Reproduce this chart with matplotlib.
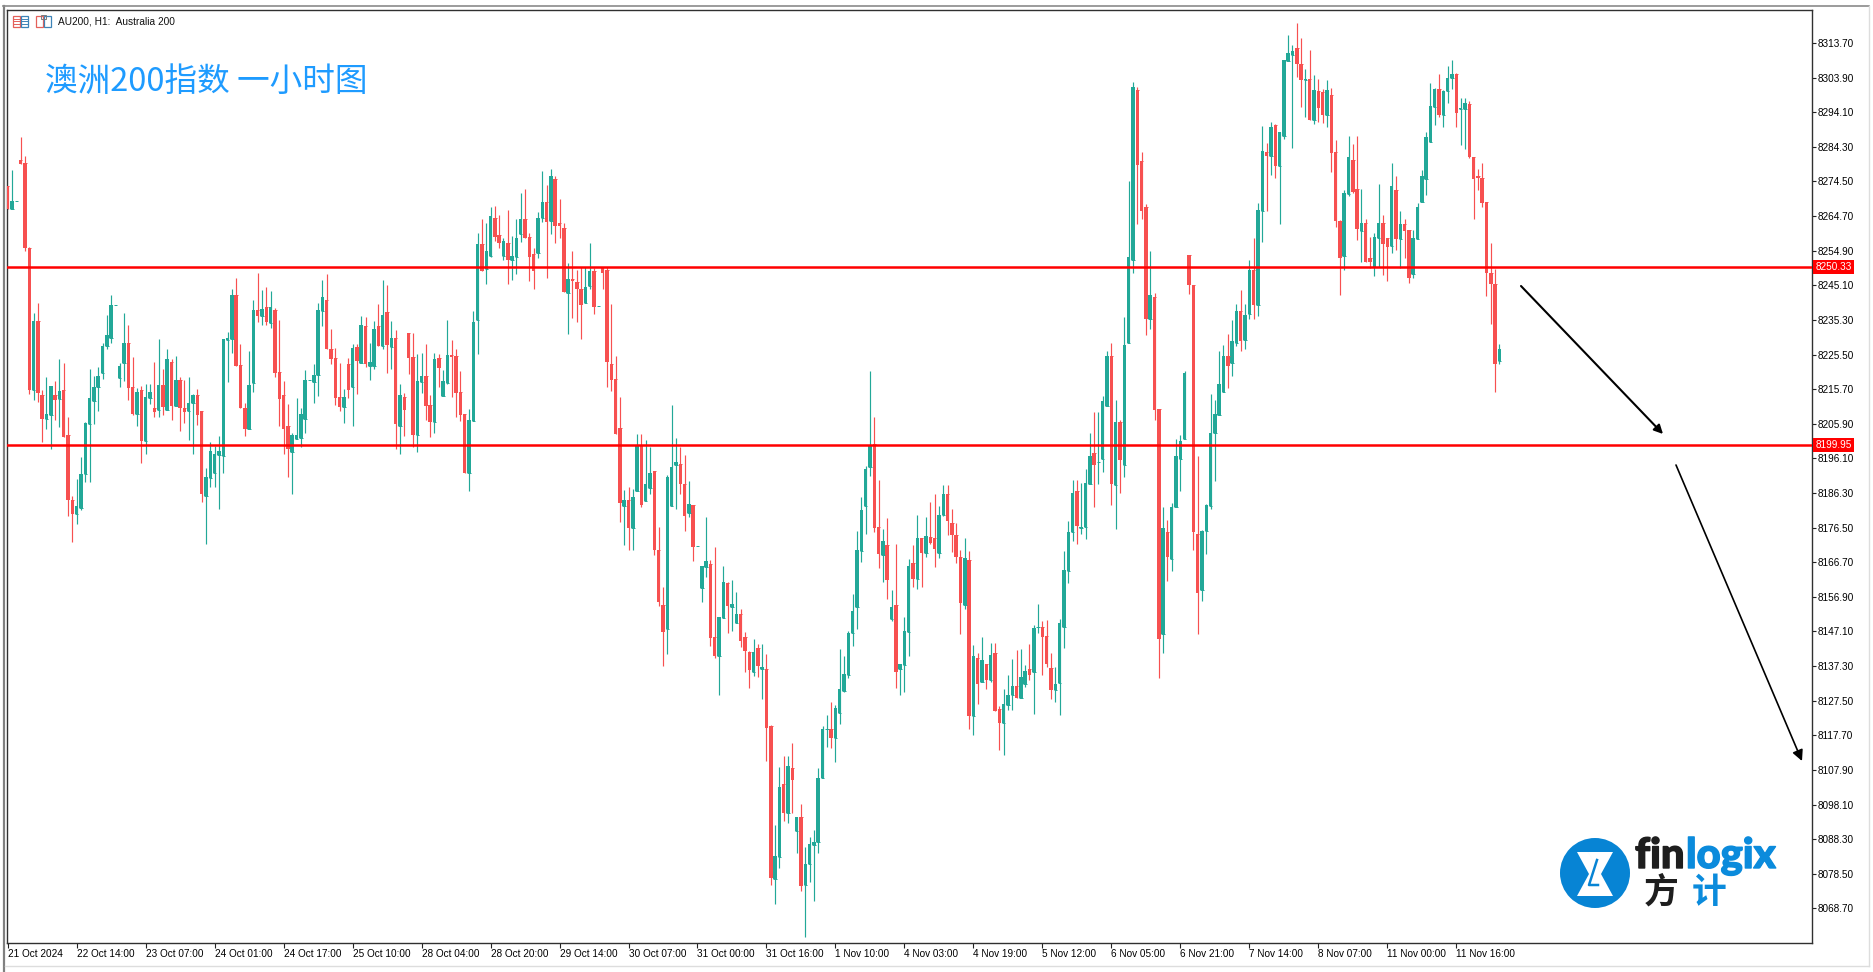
import matplotlib

matplotlib.use('Agg')
import numpy as np
import matplotlib.pyplot as plt
import matplotlib.patheffects as pe
from matplotlib.patches import Circle, Polygon, Rectangle

plt.rcParams['font.family'] = ['Liberation Sans', 'DejaVu Sans']

# hourly bars
opens = [
    8273.3, 8266.7, 8268.9, 8280.6, 8279.7, 8255.8, 8215.6, 8235.1, 8214.0, 8207.3,
    8208.4, 8214.0, 8212.9, 8215.5, 8202.7, 8184.3, 8180.3, 8182.0, 8191.6, 8205.9,
    8212.3, 8216.4, 8220.2, 8227.9, 8230.3, 8239.5, 8219.0, 8223.0, 8228.9, 8216.2,
    8208.7, 8215.5, 8200.9, 8213.2, 8210.4, 8209.8, 8217.0, 8209.8, 8223.5, 8211.0,
    8218.3, 8210.5, 8209.5, 8211.7, 8214.0, 8209.4, 8185.4, 8190.6, 8192.1, 8197.0,
    8196.8, 8229.6, 8229.9, 8242.3, 8222.5, 8210.5, 8204.3, 8217.5, 8238.1, 8236.4,
    8239.0, 8234.5, 8238.1, 8220.7, 8214.0, 8205.4, 8197.9, 8201.7, 8201.9, 8207.3,
    8218.2, 8217.6, 8219.7, 8237.9, 8240.9, 8227.1, 8224.4, 8213.4, 8210.7, 8222.8,
    8216.3, 8227.7, 8223.2, 8233.6, 8222.2, 8222.2, 8233.6, 8227.9, 8237.5, 8227.5,
    8230.2, 8205.3, 8213.4, 8231.7, 8224.7, 8202.7, 8217.6, 8219.5, 8211.2, 8206.4,
    8224.4, 8213.7, 8217.5, 8225.5, 8225.1, 8214.9, 8208.6, 8191.9, 8206.8, 8235.4,
    8256.8, 8249.6, 8253.4, 8264.3, 8259.3, 8253.4, 8257.0, 8252.3, 8253.2, 8259.6,
    8263.8, 8258.9, 8254.0, 8254.3, 8264.2, 8268.6, 8263.3, 8275.1, 8262.8, 8261.2,
    8243.0, 8247.0, 8246.0, 8244.2, 8240.0, 8244.9, 8249.2, 8239.2, 8250.4, 8249.4,
    8222.8, 8218.6, 8204.6, 8182.6, 8184.2, 8176.3, 8187.0, 8199.9, 8184.1, 8187.6,
    8192.4, 8170.3, 8154.5, 8147.7, 8182.7, 8194.3, 8194.5, 8188.8, 8180.5, 8182.9,
    8171.2, 8159.5, 8165.4, 8166.1, 8145.4, 8140.2, 8151.0, 8160.9, 8154.1, 8149.5,
    8152.0, 8145.4, 8141.4, 8135.7, 8142.3, 8136.4, 8136.5, 8120.2, 8076.9, 8083.2,
    8103.8, 8095.8, 8108.4, 8090.7, 8094.7, 8075.2, 8081.2, 8086.7, 8087.6, 8105.5,
    8119.4, 8119.4, 8116.8, 8123.9, 8130.3, 8134.8, 8146.6, 8154.1, 8170.0, 8182.5,
    8193.6, 8200.2, 8176.6, 8168.7, 8171.6, 8150.5, 8154.5, 8136.4, 8137.6, 8147.0,
    8166.4, 8162.0, 8173.6, 8169.4, 8173.9, 8173.5, 8169.4, 8180.2, 8186.0, 8177.7,
    8174.4, 8168.3, 8154.6, 8167.3, 8123.2, 8139.6, 8132.7, 8137.9, 8133.4, 8141.1,
    8125.1, 8121.1, 8126.3, 8129.1, 8131.8, 8128.4, 8132.2, 8136.5, 8135.7, 8148.3,
    8148.3, 8145.9, 8136.8, 8130.5, 8132.5, 8148.4, 8164.2, 8175.3, 8187.0, 8176.5,
    8176.6, 8188.9, 8197.5, 8195.1, 8196.0, 8210.8, 8225.0, 8188.6, 8206.4, 8194.1,
    8228.8, 8252.2, 8300.4, 8280.3, 8267.4, 8235.7, 8241.8, 8210.2, 8146.3, 8175.3,
    8167.5, 8182.3, 8195.8, 8201.5, 8253.8, 8245.2, 8174.7, 8158.7, 8175.6, 8182.7,
    8203.2, 8208.5, 8215.0, 8225.0, 8223.1, 8228.9, 8237.7, 8229.5, 8237.1, 8249.4,
    8239.6, 8266.1, 8282.9, 8281.7, 8290.5, 8278.8, 8287.3, 8308.7, 8310.2, 8312.4,
    8307.9, 8303.1, 8303.4, 8291.9, 8300.1, 8299.8, 8293.3, 8299.1, 8282.9, 8263.4,
    8253.4, 8270.9, 8280.5, 8272.5, 8260.5, 8262.8, 8252.9, 8250.4, 8258.6, 8262.8,
    8258.5, 8256.2, 8272.0, 8258.2, 8262.4, 8260.7, 8248.3, 8258.2, 8268.8, 8275.1,
    8285.7, 8295.6, 8300.8, 8293.3, 8300.2, 8303.8, 8304.9, 8294.9, 8294.9, 8296.4,
    8281.4, 8276.0, 8275.6, 8268.6, 8248.7, 8245.6, 8223.6,
]
closes = [
    8266.7, 8269.0, 8268.9, 8279.4, 8255.6, 8215.6, 8235.1, 8214.7, 8207.3, 8208.6,
    8216.6, 8212.6, 8215.3, 8202.2, 8184.3, 8180.3, 8182.6, 8191.7, 8206.1, 8213.1,
    8216.4, 8219.4, 8227.9, 8231.0, 8239.5, 8239.6, 8222.2, 8228.9, 8215.9, 8208.7,
    8214.9, 8200.9, 8213.4, 8214.9, 8209.2, 8217.0, 8210.7, 8224.1, 8211.0, 8218.3,
    8210.4, 8209.2, 8211.9, 8214.0, 8208.4, 8186.0, 8190.7, 8198.1, 8197.3, 8198.1,
    8229.9, 8230.2, 8242.3, 8222.3, 8210.4, 8204.3, 8217.0, 8238.1, 8236.4, 8238.3,
    8234.8, 8239.0, 8220.2, 8212.9, 8204.3, 8198.7, 8202.7, 8202.7, 8208.8, 8218.3,
    8218.3, 8219.8, 8238.1, 8241.7, 8227.0, 8224.2, 8213.2, 8210.7, 8213.4, 8215.4,
    8227.4, 8223.7, 8233.8, 8222.8, 8223.5, 8232.6, 8227.9, 8236.7, 8228.2, 8230.3,
    8205.8, 8214.0, 8209.8, 8224.5, 8202.7, 8218.0, 8219.5, 8211.0, 8206.4, 8224.1,
    8221.7, 8218.0, 8225.5, 8224.9, 8214.7, 8208.3, 8191.9, 8207.0, 8234.7, 8256.8,
    8249.2, 8254.9, 8264.7, 8258.7, 8257.2, 8257.6, 8252.3, 8253.4, 8258.5, 8263.8,
    8258.6, 8253.2, 8249.2, 8264.1, 8268.6, 8262.9, 8276.0, 8262.0, 8261.9, 8243.1,
    8246.9, 8246.4, 8244.0, 8239.4, 8244.5, 8249.2, 8239.1, 8239.3, 8248.6, 8223.3,
    8218.3, 8203.0, 8183.6, 8184.2, 8176.3, 8185.1, 8199.9, 8182.9, 8188.8, 8191.9,
    8170.2, 8155.5, 8147.0, 8190.8, 8193.6, 8195.1, 8188.8, 8179.9, 8183.2, 8171.1,
    8171.3, 8165.6, 8167.0, 8145.3, 8140.2, 8151.1, 8161.0, 8154.3, 8155.0, 8152.0,
    8144.5, 8141.6, 8136.2, 8141.4, 8137.3, 8137.1, 8119.7, 8077.2, 8083.5, 8103.0,
    8095.6, 8109.0, 8105.0, 8094.7, 8074.9, 8081.3, 8086.8, 8087.6, 8105.7, 8119.5,
    8119.5, 8116.8, 8125.3, 8130.7, 8135.0, 8146.6, 8153.0, 8170.3, 8181.5, 8193.0,
    8199.9, 8176.3, 8169.0, 8172.8, 8161.7, 8153.9, 8135.7, 8137.8, 8147.2, 8165.6,
    8162.0, 8173.5, 8169.2, 8174.1, 8172.2, 8170.4, 8180.0, 8186.0, 8178.4, 8174.4,
    8168.1, 8155.2, 8168.0, 8123.2, 8140.1, 8132.1, 8139.0, 8133.4, 8140.4, 8124.7,
    8121.1, 8126.5, 8129.1, 8131.8, 8128.4, 8134.3, 8135.9, 8134.8, 8148.0, 8148.4,
    8145.4, 8137.9, 8130.5, 8132.2, 8149.4, 8164.4, 8175.3, 8186.3, 8176.9, 8176.6,
    8189.2, 8196.9, 8194.2, 8195.2, 8212.4, 8225.0, 8188.9, 8206.4, 8195.6, 8228.2,
    8253.2, 8301.3, 8279.2, 8266.1, 8235.7, 8242.3, 8209.9, 8145.0, 8176.4, 8168.1,
    8182.3, 8196.9, 8200.9, 8220.3, 8245.2, 8175.2, 8157.9, 8175.6, 8182.9, 8203.4,
    8208.6, 8217.1, 8225.0, 8222.2, 8229.3, 8237.7, 8229.4, 8236.7, 8249.4, 8239.6,
    8266.5, 8283.2, 8281.7, 8289.9, 8278.8, 8288.4, 8308.8, 8311.0, 8311.4, 8307.7,
    8303.2, 8303.4, 8291.9, 8300.5, 8295.2, 8293.3, 8300.4, 8282.7, 8263.3, 8252.9,
    8271.1, 8281.3, 8271.4, 8261.1, 8262.8, 8251.6, 8251.6, 8258.8, 8262.8, 8256.7,
    8256.0, 8273.2, 8258.2, 8262.4, 8260.5, 8247.3, 8258.5, 8267.3, 8276.0, 8287.0,
    8295.8, 8300.8, 8293.3, 8300.2, 8303.9, 8304.9, 8294.0, 8295.2, 8296.6, 8281.5,
    8275.1, 8275.4, 8268.5, 8248.6, 8245.6, 8222.7, 8227.0,
]
highs = [
    8273.3, 8277.8, 8268.9, 8287.0, 8281.6, 8255.9, 8237.2, 8240.0, 8215.4, 8219.2,
    8216.6, 8218.0, 8224.1, 8223.2, 8207.9, 8185.5, 8190.4, 8196.6, 8206.3, 8221.3,
    8219.4, 8221.9, 8228.8, 8236.7, 8242.3, 8239.6, 8223.2, 8237.2, 8233.8, 8224.7,
    8215.9, 8216.6, 8217.1, 8217.3, 8223.5, 8229.9, 8221.3, 8227.1, 8224.1, 8225.0,
    8219.2, 8218.3, 8219.2, 8214.3, 8215.7, 8209.5, 8193.3, 8200.8, 8199.6, 8202.4,
    8229.9, 8231.9, 8244.2, 8247.3, 8228.4, 8211.7, 8226.5, 8240.9, 8248.5, 8243.9,
    8244.5, 8243.6, 8238.6, 8235.3, 8218.0, 8211.5, 8203.4, 8213.1, 8210.5, 8221.1,
    8218.3, 8222.8, 8240.0, 8246.6, 8248.2, 8232.6, 8227.4, 8223.2, 8215.8, 8224.4,
    8228.5, 8228.4, 8236.4, 8236.2, 8228.7, 8235.1, 8239.7, 8246.6, 8245.2, 8235.1,
    8232.4, 8217.3, 8214.5, 8231.7, 8231.7, 8225.6, 8225.8, 8228.4, 8214.0, 8225.8,
    8225.6, 8221.1, 8235.4, 8229.6, 8227.1, 8220.8, 8208.7, 8210.0, 8237.7, 8259.8,
    8263.8, 8262.8, 8267.2, 8267.6, 8265.0, 8258.4, 8266.4, 8259.0, 8263.8, 8271.1,
    8272.3, 8259.8, 8255.6, 8265.9, 8277.5, 8273.5, 8278.0, 8276.0, 8269.4, 8262.8,
    8251.3, 8254.9, 8249.4, 8250.4, 8250.4, 8257.0, 8249.9, 8239.3, 8250.4, 8250.4,
    8239.7, 8225.1, 8213.4, 8187.2, 8188.1, 8187.5, 8203.0, 8203.0, 8201.3, 8199.2,
    8192.6, 8176.8, 8159.6, 8191.4, 8211.2, 8201.8, 8199.4, 8197.1, 8189.7, 8182.9,
    8171.3, 8165.6, 8179.6, 8167.3, 8170.9, 8151.1, 8165.6, 8161.0, 8161.7, 8158.2,
    8153.4, 8147.0, 8141.7, 8144.9, 8143.5, 8143.5, 8140.6, 8120.6, 8092.3, 8108.8,
    8111.8, 8111.8, 8115.4, 8094.7, 8098.2, 8086.0, 8088.8, 8090.9, 8108.5, 8120.3,
    8123.5, 8127.0, 8126.3, 8142.0, 8140.2, 8147.2, 8157.6, 8175.5, 8185.1, 8194.0,
    8220.9, 8207.9, 8190.0, 8176.1, 8179.1, 8158.8, 8172.0, 8137.8, 8151.1, 8167.5,
    8171.6, 8180.2, 8173.6, 8179.4, 8183.8, 8186.0, 8182.6, 8188.5, 8188.7, 8181.7,
    8177.7, 8170.1, 8173.7, 8169.9, 8143.3, 8140.9, 8145.4, 8137.9, 8143.7, 8143.9,
    8126.0, 8130.7, 8134.8, 8139.2, 8141.8, 8142.0, 8137.6, 8143.5, 8148.9, 8154.8,
    8150.2, 8150.3, 8140.9, 8137.1, 8150.6, 8169.9, 8178.5, 8190.1, 8190.1, 8189.2,
    8193.1, 8203.2, 8209.3, 8209.3, 8213.9, 8226.4, 8228.9, 8212.7, 8207.0, 8236.1,
    8274.5, 8302.8, 8301.3, 8282.9, 8268.1, 8254.7, 8242.8, 8210.2, 8182.3, 8178.8,
    8183.6, 8201.5, 8202.8, 8220.9, 8253.8, 8245.2, 8196.9, 8175.7, 8183.2, 8214.2,
    8212.7, 8226.6, 8228.3, 8231.3, 8235.2, 8239.9, 8243.7, 8239.9, 8252.3, 8258.5,
    8268.4, 8290.2, 8285.3, 8291.4, 8290.8, 8288.4, 8308.8, 8315.9, 8313.0, 8319.5,
    8315.0, 8306.3, 8311.7, 8304.6, 8303.4, 8300.8, 8303.2, 8301.1, 8286.2, 8263.6,
    8272.0, 8287.4, 8285.0, 8287.4, 8272.5, 8263.8, 8258.8, 8260.0, 8273.8, 8265.0,
    8258.6, 8279.6, 8276.0, 8266.2, 8263.8, 8260.7, 8260.7, 8268.5, 8277.7, 8288.6,
    8302.5, 8301.0, 8304.9, 8300.4, 8307.2, 8308.8, 8305.2, 8298.0, 8298.2, 8297.3,
    8281.5, 8278.0, 8279.6, 8268.6, 8257.2, 8249.6, 8228.6,
]
lows = [
    8266.7, 8266.7, 8268.9, 8279.4, 8254.7, 8214.3, 8212.6, 8212.0, 8200.8, 8204.3,
    8198.7, 8207.0, 8205.1, 8202.2, 8179.9, 8172.3, 8177.5, 8181.5, 8189.5, 8189.5,
    8205.9, 8209.6, 8218.5, 8227.2, 8228.8, 8239.5, 8216.4, 8218.1, 8212.6, 8208.4,
    8205.3, 8194.9, 8197.3, 8211.4, 8207.7, 8207.7, 8208.4, 8209.8, 8207.0, 8211.0,
    8203.9, 8206.0, 8201.3, 8197.3, 8205.5, 8183.8, 8171.8, 8188.1, 8188.1, 8181.9,
    8191.9, 8217.8, 8226.0, 8222.3, 8210.4, 8202.5, 8204.3, 8215.0, 8234.8, 8233.8,
    8234.0, 8233.1, 8219.2, 8205.3, 8197.3, 8190.9, 8186.0, 8201.7, 8199.4, 8203.4,
    8218.2, 8211.7, 8213.7, 8233.7, 8227.0, 8222.8, 8211.2, 8209.5, 8206.2, 8213.1,
    8205.3, 8214.3, 8223.2, 8221.9, 8218.3, 8221.3, 8227.9, 8227.0, 8220.2, 8221.3,
    8198.7, 8197.3, 8202.4, 8219.9, 8199.2, 8198.0, 8214.7, 8207.1, 8202.2, 8203.4,
    8216.4, 8213.7, 8217.3, 8213.6, 8207.7, 8206.8, 8191.9, 8187.0, 8206.8, 8225.6,
    8249.2, 8245.5, 8253.2, 8257.7, 8255.6, 8252.3, 8245.5, 8246.6, 8248.3, 8257.5,
    8258.6, 8246.4, 8244.2, 8252.9, 8263.0, 8247.1, 8259.5, 8257.2, 8258.6, 8243.1,
    8231.2, 8235.8, 8234.8, 8230.0, 8240.0, 8244.0, 8237.0, 8239.2, 8244.2, 8216.4,
    8215.3, 8203.0, 8178.2, 8171.6, 8170.2, 8170.2, 8187.0, 8182.3, 8183.9, 8186.0,
    8168.7, 8154.3, 8137.4, 8140.6, 8182.6, 8181.7, 8186.0, 8175.6, 8179.5, 8167.1,
    8171.2, 8155.5, 8162.4, 8143.1, 8139.5, 8129.1, 8151.0, 8146.6, 8147.2, 8149.5,
    8142.8, 8135.7, 8131.2, 8134.5, 8134.3, 8127.9, 8110.5, 8075.3, 8070.0, 8080.2,
    8093.4, 8092.8, 8095.8, 8084.5, 8073.5, 8060.7, 8076.3, 8070.8, 8084.5, 8105.5,
    8114.3, 8114.0, 8110.1, 8120.8, 8130.0, 8134.0, 8143.0, 8147.8, 8166.8, 8174.6,
    8191.1, 8175.3, 8165.0, 8161.0, 8156.2, 8150.2, 8131.2, 8129.1, 8130.1, 8140.2,
    8159.8, 8159.0, 8159.8, 8168.3, 8171.8, 8165.4, 8168.0, 8179.8, 8174.4, 8169.7,
    8166.4, 8146.4, 8153.5, 8119.5, 8117.8, 8126.6, 8132.7, 8130.8, 8132.9, 8124.7,
    8113.5, 8112.1, 8125.0, 8125.0, 8128.4, 8128.4, 8131.3, 8133.4, 8123.7, 8146.6,
    8134.8, 8137.1, 8128.0, 8127.2, 8123.4, 8142.4, 8160.8, 8172.8, 8171.8, 8174.7,
    8173.4, 8188.9, 8182.3, 8188.9, 8192.2, 8210.8, 8182.9, 8176.0, 8186.4, 8190.9,
    8228.8, 8248.5, 8262.4, 8264.0, 8231.0, 8232.6, 8207.0, 8133.9, 8140.9, 8161.4,
    8164.2, 8182.3, 8187.0, 8201.5, 8242.7, 8170.3, 8146.5, 8155.7, 8169.0, 8181.9,
    8189.6, 8208.5, 8215.0, 8216.1, 8219.3, 8227.9, 8226.4, 8227.2, 8235.7, 8235.5,
    8236.4, 8257.4, 8266.1, 8276.2, 8275.4, 8262.4, 8286.4, 8308.7, 8284.0, 8304.1,
    8295.6, 8292.8, 8291.9, 8290.9, 8291.4, 8291.1, 8290.0, 8277.2, 8261.7, 8242.3,
    8249.4, 8270.4, 8271.1, 8257.9, 8251.6, 8251.6, 8249.9, 8247.7, 8250.4, 8248.0,
    8246.4, 8254.3, 8255.0, 8249.9, 8252.7, 8245.8, 8247.1, 8258.2, 8268.8, 8270.6,
    8285.7, 8290.6, 8292.8, 8289.8, 8296.8, 8300.8, 8290.0, 8284.8, 8283.8, 8281.2,
    8264.0, 8272.2, 8267.3, 8242.2, 8234.1, 8215.0, 8222.7,
]

price_ticks = [8313.70, 8303.90, 8294.10, 8284.30, 8274.50, 8264.70, 8254.90, 8245.10,
               8235.30, 8225.50, 8215.70, 8205.90, 8196.10, 8186.30, 8176.50, 8166.70,
               8156.90, 8147.10, 8137.30, 8127.50, 8117.70, 8107.90, 8098.10, 8088.30,
               8078.50, 8068.70]
time_labels = ['21 Oct 2024', '22 Oct 14:00', '23 Oct 07:00', '24 Oct 01:00', '24 Oct 17:00',
               '25 Oct 10:00', '28 Oct 04:00', '28 Oct 20:00', '29 Oct 14:00', '30 Oct 07:00',
               '31 Oct 00:00', '31 Oct 16:00', '1 Nov 10:00', '4 Nov 03:00', '4 Nov 19:00',
               '5 Nov 12:00', '6 Nov 05:00', '6 Nov 21:00', '7 Nov 14:00', '8 Nov 07:00',
               '11 Nov 00:00', '11 Nov 16:00']
bars_per_label = 16
levels = [8250.33, 8199.95]

TEAL = '#22A898'
RED = '#F75050'
W, H = 1874, 972

fig = plt.figure(figsize=(W / 100, H / 100), dpi=100)
# plot box in pixels: 7..1812 across, 10..943 down
ax = fig.add_axes([7 / W, 1 - 943 / H, (1812 - 7) / W, (943 - 10) / H])
ax.set_xlim(-0.155, 418.5)
ax.set_ylim(8058.9, 8323.05)

o = np.array(opens)
c = np.array(closes)
hi = np.array(highs)
lo = np.array(lows)
x = np.arange(len(o))
colors = np.where(c >= o, TEAL, RED)

ax.vlines(x, lo, hi, colors=colors, lw=0.85, zorder=2)
ax.bar(x, np.abs(c - o), bottom=np.minimum(o, c), width=0.8, color=colors, lw=0, zorder=3)
# doji bars still need a visible body
ax.hlines(o, x - 0.4, x + 0.4, colors=colors, lw=0.7, zorder=3)

for lev in levels:
    ax.axhline(lev, color='#FF0000', lw=1.8, zorder=4)
    ax.text(1.0018, lev, '%.2f' % lev, transform=ax.get_yaxis_transform(), color='white',
            fontsize=7.2, va='center', ha='left', zorder=6, clip_on=False,
            bbox=dict(facecolor='#FF0000', edgecolor='none', pad=1.6))

ax.yaxis.tick_right()
ax.set_yticks(price_ticks)
ax.set_yticklabels(['%.2f' % p for p in price_ticks])
ax.set_xticks(x[::bars_per_label][:len(time_labels)])
ax.set_xticklabels(time_labels, ha='left')
ax.tick_params(axis='y', length=3, width=0.8, pad=1.2, labelsize=7.2, color='#222222')
ax.tick_params(axis='x', length=3.6, width=0.8, pad=0.8, labelsize=7.2, color='#222222')
for side in ax.spines:
    ax.spines[side].set_linewidth(1.0)
    ax.spines[side].set_color('#303030')

# everything below is placed in screen pixels
ov = fig.add_axes([0, 0, 1, 1], zorder=5)
ov.set_xlim(0, W)
ov.set_ylim(H, 0)
ov.axis('off')
ov.patch.set_alpha(0)

# window frame
ov.plot([4, 4], [6, 972], color='#808080', lw=1.6)
ov.plot([3, 1869], [6, 6], color='#8A8A8A', lw=1.2)
ov.plot([1869, 1869], [6, 966], color='#DDDDDD', lw=1.0)
ov.plot([5, 1869], [966, 966], color='#DDDDDD', lw=1.0)

# toolbar icons
for x0 in (13, 36):
    ov.add_patch(Rectangle((x0, 16), 7.5, 11, fill=False, ec='#E4605A', lw=0.9))
    ov.add_patch(Rectangle((x0 + 8, 16), 7.5, 11, fill=False, ec='#3D84B8', lw=0.9))
for yy in (19, 21.5, 24):
    ov.plot([14, 20], [yy, yy], color='#E4605A', lw=0.7)
    ov.plot([22, 28], [yy, yy], color='#3D84B8', lw=0.7)
ov.add_patch(Rectangle((41, 15), 5, 4, fill=False, ec='#7A7A7A', lw=0.7))

ov.text(58, 22, 'AU200, H1:  Australia 200', fontsize=7.3, color='#111111', va='center', ha='left')
ov.text(45.5, 81.5, '澳洲200指数 一小时图', fontsize=23.5, color='#1E9BFF', va='center', ha='left',
        family=['Noto Sans CJK SC', 'DejaVu Sans'])

# hand drawn arrows
ov.annotate('', xy=(1663, 434), xytext=(1521, 286),
            arrowprops=dict(arrowstyle='-|>', color='black', lw=1.5, mutation_scale=13,
                            shrinkA=0, shrinkB=0))
ov.annotate('', xy=(1802, 761), xytext=(1676, 465),
            arrowprops=dict(arrowstyle='-|>', color='black', lw=1.2, mutation_scale=16,
                            shrinkA=0, shrinkB=0))

# logo
BLUE = '#0784D4'
ov.add_patch(Circle((1595, 873), 35, color=BLUE, lw=0))
ov.add_patch(Polygon([(1577, 852), (1613, 852), (1601, 874), (1613, 896), (1577, 896), (1589, 874)],
                     color='white', lw=0))
ov.plot([1577, 1588, 1600], [852, 852, 872], color=BLUE, lw=0.01)
ov.plot([1597, 1589, 1598], [860, 885, 885], color=BLUE, lw=1.8)
heavy_dark = [pe.withStroke(linewidth=1.0, foreground='#1E1E1E')]
heavy_blue = [pe.withStroke(linewidth=1.0, foreground='#0B8BDC')]
ov.text(1635, 868, 'fin', fontsize=30, color='#1E1E1E', family='Lato', weight='black',
        va='baseline', ha='left', path_effects=heavy_dark)
ov.text(1686, 868, 'logix', fontsize=30, color='#0B8BDC', family='Lato', weight='black',
        va='baseline', ha='left', path_effects=heavy_blue)
ov.text(1644, 892, '方', fontsize=25, color='#1E1E1E', family='Noto Sans CJK SC', weight='bold',
        va='center', ha='left')
ov.text(1692, 892, '计', fontsize=25, color='#0B8BDC', family='Noto Sans CJK SC', weight='bold',
        va='center', ha='left')

plt.savefig('out.png', dpi=100)
